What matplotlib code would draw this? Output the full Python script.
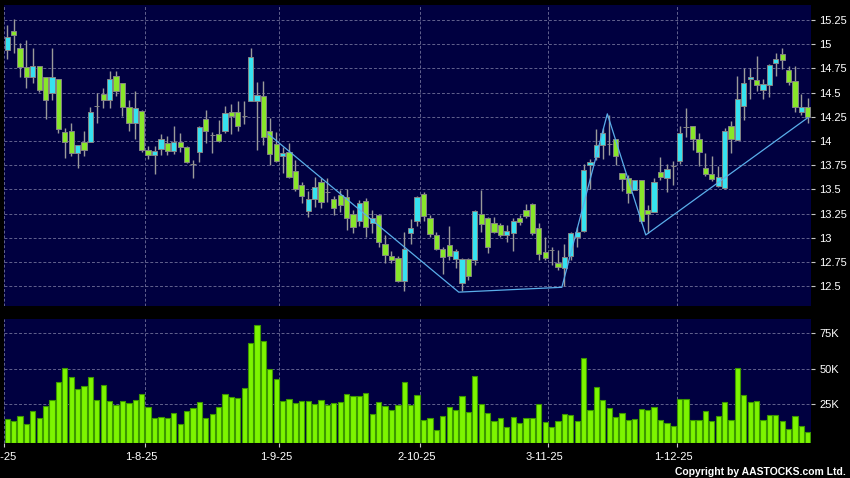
import numpy as np
import pandas as pd
import matplotlib
matplotlib.use('Agg')
import matplotlib.pyplot as plt
from matplotlib.ticker import FuncFormatter
from matplotlib.transforms import ScaledTranslation

# ============================
# Data (daily candles + volume)
# ============================

holidays = ['2025-10-01', '2025-10-07', '2025-10-29', '2025-12-25', '2025-12-26']
dates = pd.bdate_range('2025-07-02', '2025-12-31').drop(pd.to_datetime(holidays))

opens = [14.94, 15.13, 14.96, 14.76, 14.66, 14.77, 14.66, 14.49, 14.64, 14.09,
         14.10, 13.88, 13.99, 13.99, 14.36, 14.48, 14.42, 14.67, 14.60, 14.35,
         14.19, 14.31, 13.91, 13.86, 13.92, 13.98, 13.90, 13.99, 13.94, 13.76,
         13.89, 14.23, 14.06, 14.07, 14.10, 14.30, 14.30, 14.26, 14.41, 14.41,
         14.46, 14.10, 13.97, 13.85, 13.89, 13.69, 13.55, 13.28, 13.40, 13.58,
         13.47, 13.40, 13.44, 13.42, 13.25, 13.17, 13.38, 13.15, 13.24, 12.94,
         12.81, 12.79, 12.55, 13.05, 13.17, 13.45, 13.21, 13.03, 12.89, 12.93,
         12.78, 12.53, 12.78, 12.77, 13.25, 13.20, 13.15, 13.13, 13.03, 13.05,
         13.20, 13.29, 13.35, 13.10, 12.85, 12.87, 12.74, 12.69, 12.81, 13.01,
         13.07, 13.75, 13.83, 13.96, 13.97, 14.02, 13.67, 13.62, 13.49, 13.60,
         13.29, 13.27, 13.68, 13.62, 13.74, 13.79, 14.14, 14.15, 14.02, 13.72,
         13.66, 13.54, 13.51, 14.15, 14.01, 14.36, 14.64, 14.63, 14.53, 14.58,
         14.80, 14.90, 14.73, 14.62, 14.30, 14.35]

highs = [15.20, 15.26, 15.01, 15.04, 14.96, 14.77, 14.66, 14.96, 14.64, 14.13,
         14.19, 13.96, 14.10, 14.35, 14.49, 14.55, 14.72, 14.72, 14.60, 14.42,
         14.52, 14.32, 13.95, 13.95, 14.07, 14.05, 14.15, 14.08, 13.95, 13.80,
         14.15, 14.32, 14.09, 14.22, 14.36, 14.38, 14.41, 14.41, 14.96, 14.61,
         14.62, 14.24, 14.09, 13.94, 13.98, 13.80, 13.58, 13.48, 13.63, 13.62,
         13.62, 13.43, 13.49, 13.50, 13.29, 13.39, 13.41, 13.29, 13.25, 13.03,
         12.86, 12.81, 13.06, 13.19, 13.43, 13.47, 13.24, 13.06, 12.91, 13.12,
         12.89, 12.79, 12.79, 13.29, 13.49, 13.22, 13.22, 13.15, 13.13, 13.20,
         13.24, 13.35, 13.36, 13.15, 13.01, 12.91, 12.88, 12.94, 13.06, 13.11,
         13.76, 13.81, 14.12, 14.13, 14.27, 14.02, 13.67, 13.65, 13.60, 13.60,
         13.34, 13.62, 13.83, 13.76, 13.79, 14.15, 14.34, 14.15, 14.08, 13.88,
         13.85, 13.74, 14.13, 14.21, 14.67, 14.75, 14.75, 14.88, 14.64, 14.79,
         14.91, 14.96, 14.77, 14.77, 14.48, 14.44]

lows = [14.85, 14.91, 14.66, 14.55, 14.60, 14.51, 14.23, 14.42, 14.08, 13.82,
        13.85, 13.72, 13.85, 13.99, 14.19, 14.34, 14.34, 14.46, 14.26, 14.10,
        14.02, 13.89, 13.81, 13.66, 13.86, 13.86, 13.87, 13.89, 13.77, 13.62,
        13.78, 13.98, 13.88, 13.99, 14.08, 14.07, 14.10, 14.18, 14.41, 13.91,
        13.96, 13.75, 13.78, 13.67, 13.62, 13.48, 13.36, 13.22, 13.32, 13.31,
        13.37, 13.24, 13.27, 13.08, 13.05, 13.12, 13.01, 13.05, 12.91, 12.74,
        12.74, 12.54, 12.45, 12.94, 13.12, 13.17, 13.01, 12.87, 12.63, 12.77,
        12.69, 12.45, 12.57, 12.72, 13.06, 12.84, 13.05, 13.01, 12.96, 12.86,
        13.13, 13.20, 13.03, 12.77, 12.77, 12.72, 12.67, 12.50, 12.77, 12.91,
        13.06, 13.50, 13.80, 13.81, 13.86, 13.75, 13.48, 13.36, 13.49, 13.15,
        13.05, 13.27, 13.60, 13.47, 13.55, 13.76, 14.04, 13.91, 13.74, 13.64,
        13.59, 13.53, 13.50, 13.88, 14.01, 14.22, 14.43, 14.52, 14.43, 14.45,
        14.67, 14.74, 14.58, 14.30, 14.27, 14.19]

closes = [15.07, 15.09, 14.76, 14.66, 14.77, 14.53, 14.42, 14.66, 14.12, 13.99,
          13.88, 13.96, 13.91, 14.30, 14.36, 14.42, 14.64, 14.52, 14.35, 14.19,
          14.34, 13.91, 13.86, 13.90, 14.02, 13.90, 13.99, 13.94, 13.78, 13.76,
          14.14, 14.10, 14.06, 14.00, 14.29, 14.26, 14.15, 14.26, 14.87, 14.47,
          14.04, 13.87, 13.79, 13.88, 13.63, 13.50, 13.43, 13.40, 13.52, 13.37,
          13.47, 13.31, 13.34, 13.20, 13.11, 13.36, 13.11, 13.21, 12.96, 12.82,
          12.77, 12.55, 12.89, 13.10, 13.42, 13.23, 13.04, 12.89, 12.80, 12.81,
          12.86, 12.78, 12.61, 13.28, 13.14, 12.91, 13.06, 13.03, 13.07, 13.17,
          13.16, 13.23, 13.05, 12.83, 12.79, 12.87, 12.70, 12.80, 13.05, 13.06,
          13.70, 13.78, 13.96, 14.08, 13.97, 13.84, 13.61, 13.46, 13.60, 13.17,
          13.25, 13.58, 13.63, 13.71, 13.74, 14.08, 14.14, 14.02, 13.89, 13.66,
          13.61, 13.63, 14.10, 14.02, 14.43, 14.60, 14.66, 14.58, 14.59, 14.78,
          14.85, 14.84, 14.61, 14.35, 14.35, 14.25]

# volume in thousands of shares
volumes_k = [14.8, 13.7, 16.6, 11.4, 20.1, 15.2, 23.9, 28.3, 41.0, 51.0,
             44.1, 36.1, 38.1, 44.3, 28.3, 38.8, 27.7, 24.8, 27.4, 26.1,
             28.1, 32.3, 23.2, 15.7, 16.1, 15.7, 19.0, 11.2, 20.6, 22.6,
             27.0, 15.2, 18.3, 23.2, 32.3, 30.6, 29.4, 36.3, 68.1, 81.2,
             69.7, 49.7, 43.2, 27.5, 28.7, 26.4, 27.2, 27.7, 25.0, 27.9,
             24.8, 26.3, 26.6, 32.3, 31.0, 30.8, 33.0, 18.6, 26.8, 23.7,
             20.8, 24.6, 40.6, 24.3, 31.7, 13.9, 15.2, 6.8, 16.6, 23.0,
             21.2, 31.2, 19.9, 45.0, 25.0, 18.8, 13.7, 15.7, 8.8, 15.9,
             11.7, 15.2, 15.7, 25.0, 12.6, 9.0, 13.2, 18.3, 17.7, 13.7,
             57.7, 21.2, 37.2, 28.3, 22.3, 16.3, 19.0, 14.3, 15.0, 21.7,
             21.4, 23.0, 14.3, 11.7, 9.9, 29.0, 29.0, 14.3, 13.9, 20.6,
             13.7, 17.0, 26.8, 14.3, 51.0, 31.7, 26.8, 27.7, 14.1, 17.4,
             17.7, 13.7, 7.9, 17.2, 9.9, 5.9]

# zigzag trend line vertices (bar index, price)
zigzag_idx = [40.8, 70.5, 86.6, 93.7, 99.7, 125.0]
zigzag_price = [14.07, 12.44, 12.49, 14.28, 13.03, 14.24]

price_ticks = np.arange(12.5, 15.26, 0.25)
volume_ticks = [25, 50, 75]

# ============================
# Styling
# ============================

PANEL = '#000040'
CYAN = '#36e2f0'
GREEN = '#88e62a'
GREY = '#9a9a9a'
VOL_GREEN = '#7df500'
GRID = '#62628e'
ZIGZAG = '#5aaeea'

plt.rcParams['font.family'] = ['Liberation Sans', 'DejaVu Sans']

x = np.arange(len(dates))
o = np.array(opens)
h = np.array(highs)
l = np.array(lows)
c = np.array(closes)
vol = np.array(volumes_k)

colors = np.where(c > o, CYAN, np.where(c < o, GREEN, GREY))

# month start ticks sit on the left edge of the first bar of each month
month = dates.month
first = np.flatnonzero(np.r_[True, month[1:] != month[:-1]])
tick_pos = first - 0.5
tick_lab = [f'{d.day}-{d.month}-{d.year % 100}' for d in dates[first]]

fig = plt.figure(figsize=(8.5, 4.78), dpi=100, facecolor='black')
ax = fig.add_axes([4 / 850, 1 - 306 / 478, 807 / 850, 301 / 478])
axv = fig.add_axes([4 / 850, 1 - 443.3 / 478, 807 / 850, 124.3 / 478], sharex=ax)

for a in (ax, axv):
    a.set_facecolor(PANEL)
    for s in a.spines.values():
        s.set_visible(False)
    a.set_xticks(tick_pos)
    a.grid(True, color=GRID, linewidth=0.7, linestyle=(0, (3, 2)))
    a.set_axisbelow(True)
    a.yaxis.tick_right()
    a.tick_params(axis='y', colors='#c8c8c8', labelcolor='white', labelsize=8,
                  length=3, width=0.8, pad=3)

# ============================
# Price panel
# ============================

ax.vlines(x, l, h, color=GREY, linewidth=1, zorder=2)
ax.bar(x, np.abs(c - o), bottom=np.minimum(o, c), width=0.82, color=colors,
       edgecolor='#858585', linewidth=0.7, zorder=3)
ax.plot(zigzag_idx, zigzag_price, color=ZIGZAG, linewidth=0.9, zorder=4)

ax.set_xlim(-0.5, len(dates) - 0.5)
ax.set_ylim(12.297, 15.403)
ax.set_yticks(price_ticks)
ax.yaxis.set_major_formatter(FuncFormatter(lambda v, p: f'{v:g}'))
ax.tick_params(axis='x', length=0, labelbottom=False)

# ============================
# Volume panel
# ============================

vol_floor = -2.33
axv.bar(x, vol - vol_floor, bottom=vol_floor, width=0.82, color=VOL_GREEN,
        edgecolor='#3c9800', linewidth=0.8, zorder=3)
axv.set_ylim(vol_floor, 85.2)
axv.set_yticks(volume_ticks)
axv.yaxis.set_major_formatter(FuncFormatter(lambda v, p: f'{v:g}K'))
axv.set_xticklabels(tick_lab)
axv.tick_params(axis='x', colors='#c8c8c8', labelcolor='white', labelsize=8,
                length=3, width=0.8, pad=3)

# date labels sit a touch left of their grid line, like the original
shift = ScaledTranslation(-2.5 / 72, 0, fig.dpi_scale_trans)
for lab in axv.get_xticklabels():
    lab.set_transform(lab.get_transform() + shift)

fig.text(0.995, 1 - 472 / 478, 'Copyright by AASTOCKS.com Ltd.', ha='right',
         va='center', color='white', fontsize=7.5, fontweight='bold')

fig.savefig('out.png', dpi=100, facecolor='black')
